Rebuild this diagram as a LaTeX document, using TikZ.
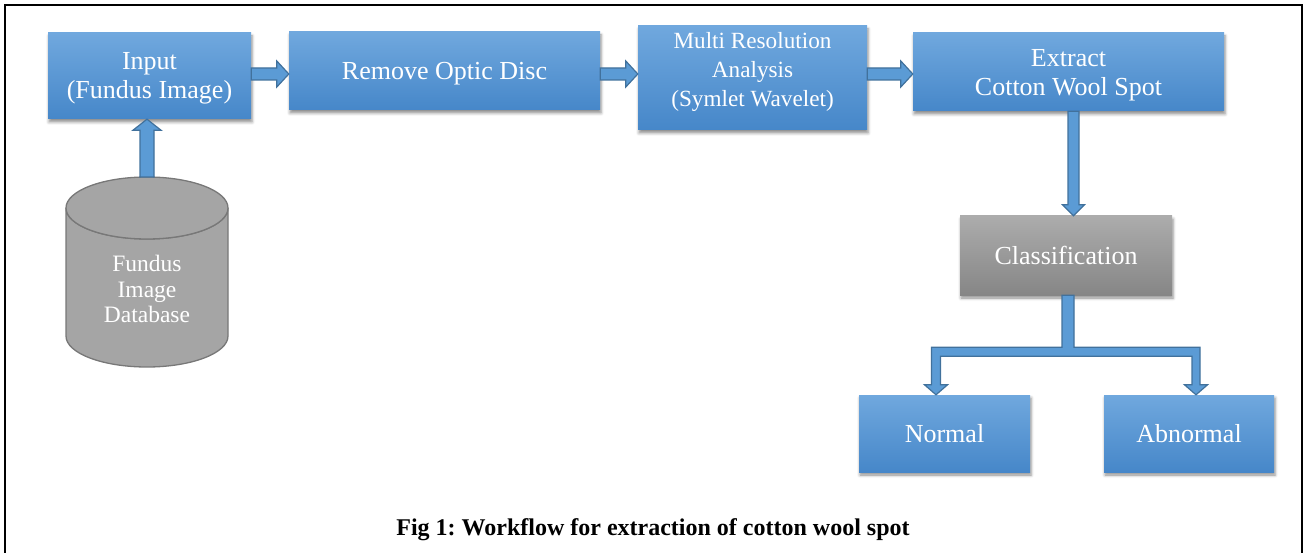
\documentclass[tikz,border=0pt]{standalone}
\usepackage{fontspec}
\setmainfont{Liberation Serif}
\frenchspacing
\usetikzlibrary{calc,shadows.blur}
\definecolor{boxtop}{RGB}{112,168,222}
\definecolor{boxbot}{RGB}{70,135,201}
\definecolor{graytop}{RGB}{172,172,172}
\definecolor{graybot}{RGB}{134,134,134}
\definecolor{arrfill}{RGB}{91,155,213}
\definecolor{arrline}{RGB}{65,113,156}
\definecolor{cylfill}{RGB}{165,165,165}
\definecolor{cylline}{RGB}{120,120,120}
\tikzset{
  boxshadow/.style={blur shadow={shadow xshift=1pt,shadow yshift=-3pt,shadow blur radius=3pt,shadow opacity=45}},
  bluebox/.style={rectangle,top color=boxtop,bottom color=boxbot,boxshadow,inner sep=0pt},
  graybox/.style={bluebox,top color=graytop,bottom color=graybot},
  boxtext/.style={text=white,align=center,inner sep=0pt,font=\fontsize{26}{29}\selectfont},
  blockarrow/.style={fill=arrfill,draw=arrline,line width=1.2pt,line join=miter},
  cyl/.style={fill=cylfill,draw=cylline,line width=1.3pt},
}
\newcommand\harrow[2]{\draw[blockarrow] let \p1=(#1.east), \p2=(#2.west), \p3=(lvl) in
  (\x1,\y3+6pt) -- (\x2-12pt,\y3+6pt) -- (\x2-12pt,\y3+13pt) -- (\x2,\y3) --
  (\x2-12pt,\y3-13pt) -- (\x2-12pt,\y3-6pt) -- (\x1,\y3-6pt) -- cycle;}
\begin{document}
\begin{tikzpicture}[x=1pt,y=-1pt]
\useasboundingbox (0,0) rectangle (1305,553);
% frame
\draw[line width=2.5pt] (5,560) -- (5,5) -- (1302,5) -- (1302,560);
% boxes
\node[bluebox,minimum width=203pt,minimum height=86pt,
  label={[boxtext,yshift=-2.5pt]center:Input\\(Fundus Image)}] (inp) at (149.5,76) {};
\node[bluebox,minimum width=311pt,minimum height=78pt,
  label={[boxtext,yshift=-3pt]center:Remove Optic Disc}] (rod) at (444.5,71) {};
\node[bluebox,minimum width=229pt,minimum height=104pt,
  label={[boxtext,font=\fontsize{23.2}{29}\selectfont,yshift=6pt]center:Multi Resolution\\Analysis\\(Symlet Wavelet)}] (mra) at (752.5,78) {};
\node[bluebox,minimum width=311pt,minimum height=78pt,
  label={[boxtext,yshift=-3pt]center:Extract\\Cotton Wool Spot}] (ext) at (1068.5,72) {};
\node[graybox,minimum width=212pt,minimum height=79pt,
  label={[boxtext]center:Classification}] (cls) at (1066,255.5) {};
\node[bluebox,minimum width=171pt,minimum height=77pt,
  label={[boxtext]center:Normal}] (nor) at (944.5,433.5) {};
\node[bluebox,minimum width=170pt,minimum height=77pt,
  label={[boxtext]center:Abnormal}] (abn) at (1189,433.5) {};
% cylinder
\filldraw[cyl] (66,208) -- (66,336) arc[start angle=180,end angle=0,x radius=81,y radius=31]
  -- (228,208) arc[start angle=0,end angle=180,x radius=81,y radius=31] -- cycle;
\filldraw[cyl] (147,208) ellipse[x radius=81,y radius=31];
\coordinate (dbtop) at (147,177);
\node[boxtext,font=\fontsize{23.5}{25.5}\selectfont] (db) at (147,289) {Fundus\\Image\\Database};
% arrows
\coordinate (lvl) at (0,74);
\harrow{inp}{rod}
\harrow{rod}{mra}
\harrow{mra}{ext}
\draw[blockarrow] let \p1=(dbtop), \p2=(inp.south) in
  (\x1-7pt,\y1) -- (\x1-7pt,\y2-11pt) -- (\x1-14pt,\y2-11pt) -- (\x1,\y2) --
  (\x1+14pt,\y2-11pt) -- (\x1+7pt,\y2-11pt) -- (\x1+7pt,\y1) -- cycle;
\draw[blockarrow] let \p1=(ext.south), \p2=(cls.north) in
  (\x1-0.5pt,\y1) -- (\x1-0.5pt,\y2+11pt) -- (\x1-6pt,\y2+11pt) -- (\x1+5pt,\y2) --
  (\x1+16pt,\y2+11pt) -- (\x1+10.5pt,\y2+11pt) -- (\x1+10.5pt,\y1) -- cycle;
\draw[blockarrow] let \p1=(cls.south), \p2=(nor.north), \p3=(abn.north) in
  (\x1-4pt,\y1) -- (\x1-4pt,\y1-52pt) -- (\x2-13pt,\y1-52pt) -- (\x2-13pt,\y2+10pt) --
  (\x2-20pt,\y2+10pt) -- (\x2-8.5pt,\y2) -- (\x2+3pt,\y2+10pt) -- (\x2-4pt,\y2+10pt) --
  (\x2-4pt,\y1-61pt) -- (\x3+3pt,\y1-61pt) -- (\x3+3pt,\y2+10pt) -- (\x3-4.5pt,\y2+10pt) --
  (\x3+7pt,\y2) -- (\x3+18.5pt,\y2+10pt) -- (\x3+11pt,\y2+10pt) -- (\x3+11pt,\y1-52pt) --
  (\x1+8pt,\y1-52pt) -- (\x1+8pt,\y1) -- cycle;
% caption
\node[font=\bfseries\fontsize{24}{27}\selectfont,inner sep=0pt] (cap) at (653,530) {Fig 1: Workflow for extraction of cotton wool spot};
\end{tikzpicture}
\end{document}
